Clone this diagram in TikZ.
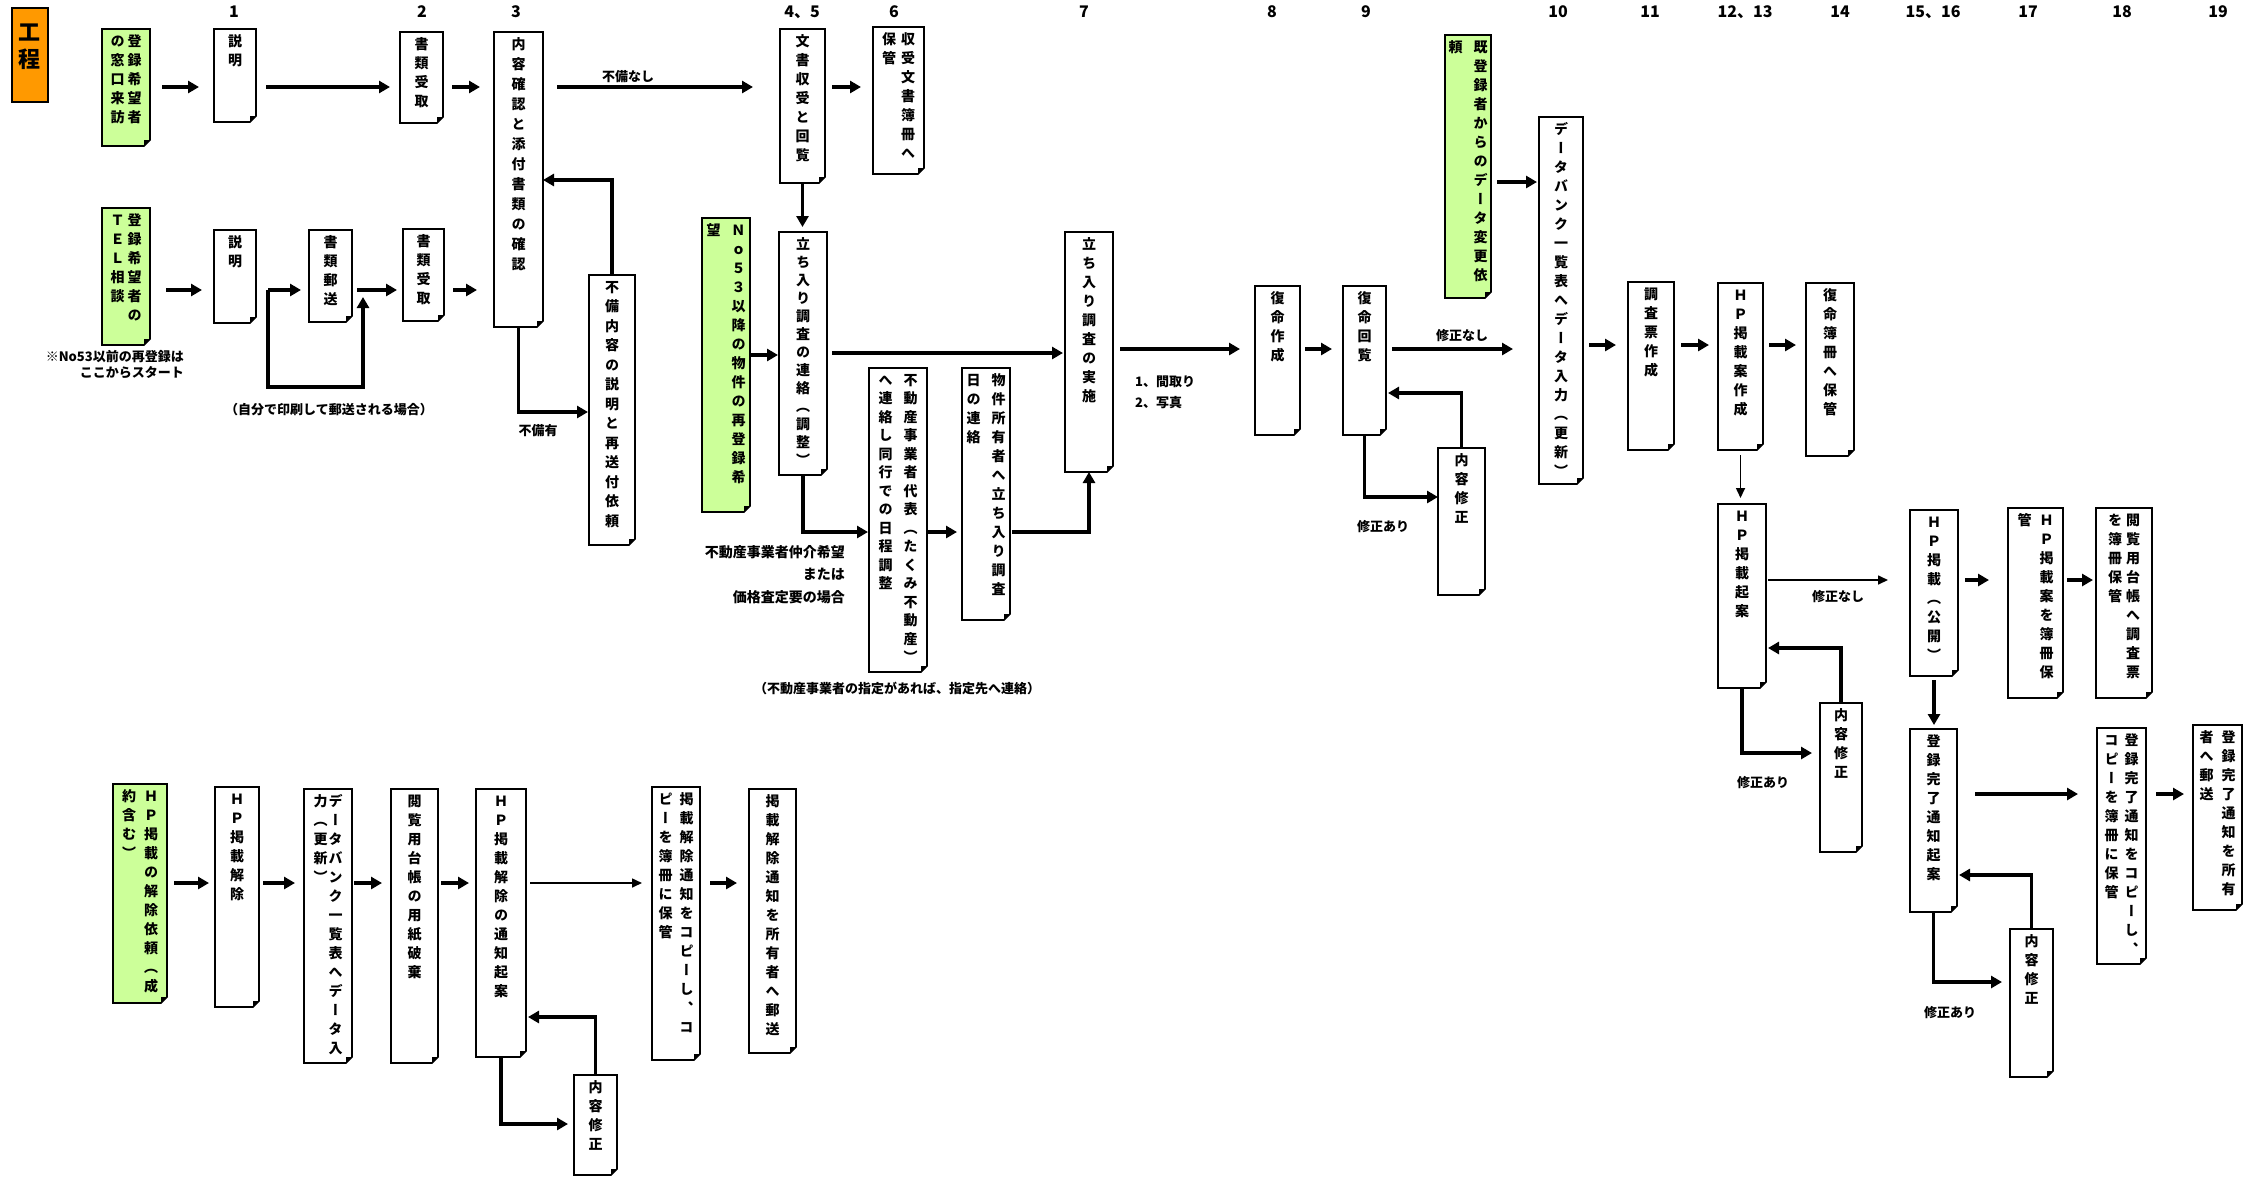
\documentclass[tikz,border=0pt]{standalone}
\usepackage{fontspec}
\usetikzlibrary{arrows.meta,calc}
\newfontfamily\jpv[RawFeature=+vert]{Noto Sans CJK JP}
\newfontfamily\jph{Noto Sans CJK JP}
\definecolor{gfill}{RGB}{204,255,153}
\definecolor{ofill}{RGB}{255,153,0}
\newlength\cw \setlength\cw{14pt}
\newlength\pitch \setlength\pitch{19pt}
\def\VCa#1{\ifx\relax#1\else\hbox to\cw{\hss\vrule height 12pt depth 2pt width 0pt#1\hss}\expandafter\VCa\fi}
\newcommand\VC[1]{\vtop{\baselineskip=\pitch\lineskiplimit=-\maxdimen\lineskip=0pt\VCa#1\relax}}
\newcommand\VT[3][5pt]{\hbox{\VC{#3}\hskip#1\VC{#2}}}
\tikzset{
 boxn/.style={inner sep=0pt, outer sep=0pt, draw=none},
 boxline/.style={draw=black, line width=1.6pt, line join=miter},
 vtext/.style={anchor=north, inner sep=0pt, font=\jpv\bfseries\fontsize{14}{14}\selectfont},
 lab/.style={inner sep=0pt, font=\jph\bfseries\fontsize{13}{13}\selectfont},
 labb/.style={inner sep=0pt, font=\jph\bfseries\fontsize{14}{14}\selectfont},
 num/.style={inner sep=0pt, anchor=base, font=\jph\bfseries\fontsize{16}{16}\selectfont},
 arr/.style={line width=3.2pt, -{Triangle[length=11pt,width=12pt]}},
 tarr/.style={line width=1.6pt, -{Triangle[length=10pt,width=9pt]}}
}
\newcommand\dbox[7][white]{%
\node[boxn, minimum width={#5-#3}, minimum height={#6-#4}, anchor=north west] (#2) at (#3,#4) {};
\filldraw[fill=#1, boxline] (#2.north west) -- (#2.north east) -- ([yshift=6pt]#2.south east) -- ([xshift=-6pt]#2.south east) -- (#2.south west) -- cycle;
\fill ([yshift=6pt]#2.south east) -- ([xshift=-6pt,yshift=6pt]#2.south east) -- ([xshift=-6pt]#2.south east) -- cycle;
\node[vtext] (#2t) at ([yshift=-5pt]#2.north) {#7};}
\begin{document}
\begin{tikzpicture}[x=1pt,y=-1pt]
\useasboundingbox (0,0) rectangle (2257,1178);
\fill[white] (0,0) rectangle (2257,1178);
% header
\node[boxn, draw=black, line width=1.6pt, fill=ofill, minimum width=36, minimum height=94, anchor=north west] (KT) at (12,8) {};
\node[anchor=north, inner sep=0pt, font=\jpv\bfseries\fontsize{22}{22}\selectfont] (KTt) at ([yshift=-16pt]KT.north) {\setlength\cw{24pt}\setlength\pitch{27pt}\VC{工程}};
\node[num] (C1) at (234,17) {1};
\node[num] (C2) at (422,17) {2};
\node[num] (C3) at (516,17) {3};
\node[num] (C45) at (802,17) {4、5};
\node[num] (C6) at (894,17) {6};
\node[num] (C7) at (1084,17) {7};
\node[num] (C8) at (1272,17) {8};
\node[num] (C9) at (1366,17) {9};
\node[num] (C10) at (1558,17) {10};
\node[num] (C11) at (1650,17) {11};
\node[num] (C1213) at (1745,17) {12、13};
\node[num] (C14) at (1840,17) {14};
\node[num] (C1516) at (1933,17) {15、16};
\node[num] (C17) at (2028,17) {17};
\node[num] (C18) at (2122,17) {18};
\node[num] (C19) at (2218,17) {19};
% row 1
\dbox[gfill]{G1}{102}{29}{150}{146}{\VT[3pt]{登録希望者}{の窓口来訪}}
\dbox{N1}{214}{29}{256}{122}{\VC{説明}}
\dbox{N2}{400}{32}{443}{123}{\VC{書類受取}}
\dbox{N3}{494}{32}{543}{327}{\setlength\pitch{20pt}\VC{内容確認と添付書類の確認}}
\dbox{N45}{780}{29}{825}{183}{\VC{文書収受と回覧}}
\dbox{N6}{873}{27}{924}{174}{\VT{収受文書簿冊へ}{保管}}
% row 2
\dbox[gfill]{G2}{102}{208}{150}{345}{\VT[3pt]{登録希望者の}{ＴＥＬ相談}}
\dbox{N1b}{214}{230}{256}{323}{\VC{説明}}
\dbox{N1c}{309}{230}{352}{322}{\VC{書類郵送}}
\dbox{N2b}{403}{229}{444}{321}{\VC{書類受取}}
\dbox{N3r}{589}{275}{635}{545}{\setlength\pitch{19.5pt}\VC{不備内容の説明と再送付依頼}}
\dbox[gfill]{G3}{702}{218}{750}{512}{\VT[11pt]{Ｎｏ５３以降の物件の再登録希}{望}}
\dbox{N45b}{779}{232}{827}{475}{\setlength\pitch{18pt}\VC{立ち入り調査の連絡（調整）}}
\dbox{N7}{1065}{232}{1113}{472}{\VC{立ち入り調査の実施}}
\dbox{N45c}{869}{368}{927}{672}{\setlength\pitch{18.5pt}\VT[11pt]{不動産事業者代表（たくみ不動産）}{へ連絡し同行での日程調整}}
\dbox{N45d}{962}{368}{1010}{620}{\VT[11pt]{物件所有者へ立ち入り調査}{日の連絡}}
\dbox{N8}{1255}{286}{1300}{435}{\VC{復命作成}}
\dbox{N9}{1343}{286}{1386}{435}{\VC{復命回覧}}
\dbox{N9r}{1438}{448}{1485}{595}{\VC{内容修正}}
\dbox[gfill]{G4}{1445}{35}{1491}{298}{\VT[11pt]{既登録者からのデータ変更依}{頼}}
\dbox{N10}{1539}{117}{1583}{484}{\VC{データバンク一覧表へデータ入力（更新）}}
\dbox{N11}{1628}{282}{1674}{450}{\VC{調査票作成}}
\dbox{N12}{1718}{283}{1763}{450}{\VC{ＨＰ掲載案作成}}
\dbox{N14}{1806}{283}{1854}{456}{\VC{復命簿冊へ保管}}
\dbox{N12b}{1718}{504}{1766}{688}{\VC{ＨＰ掲載起案}}
\dbox{N15}{1910}{510}{1958}{676}{\VC{ＨＰ掲載（公開）}}
\dbox{N17}{2008}{508}{2063}{698}{\VT[8pt]{ＨＰ掲載案を簿冊保}{管}}
\dbox{N18}{2096}{508}{2152}{698}{\VT[4pt]{閲覧用台帳へ調査票}{を簿冊保管}}
\dbox{N12r}{1820}{703}{1862}{852}{\VC{内容修正}}
\dbox{N15b}{1910}{729}{1957}{912}{\VC{登録完了通知起案}}
\dbox{N18b}{2097}{728}{2146}{964}{\VT[6pt]{登録完了通知をコピーし、}{コピーを簿冊に保管}}
\dbox{N19}{2193}{725}{2242}{910}{\VT[8pt]{登録完了通知を所有}{者へ郵送}}
\dbox{N15r}{2010}{929}{2053}{1077}{\VC{内容修正}}
% row 3
\dbox[gfill]{G5}{113}{784}{167}{1003}{\VT[8pt]{ＨＰ掲載の解除依頼（成}{約含む）}}
\dbox{M1}{215}{787}{259}{1007}{\VC{ＨＰ掲載解除}}
\dbox{M2}{304}{789}{352}{1063}{\VT[1pt]{データバンク一覧表へデータ入}{力（更新）}}
\dbox{M3}{391}{789}{438}{1063}{\VC{閲覧用台帳の用紙破棄}}
\dbox{M4}{476}{789}{526}{1057}{\VC{ＨＰ掲載解除の通知起案}}
\dbox{M6}{652}{787}{700}{1060}{\VT[7pt]{掲載解除通知をコピーし、コ}{ピーを簿冊に保管}}
\dbox{M7}{749}{789}{796}{1053}{\VC{掲載解除通知を所有者へ郵送}}
\dbox{M4r}{574}{1075}{617}{1175}{\VC{内容修正}}
% labels
\node[lab] (L1) at (628,77) {不備なし};
\node[lab] (L2) at (538,431) {不備有};
\node[lab] (L3) at (329,410) {（自分で印刷して郵送される場合）};
\node[lab,anchor=east] (L4) at (184,357) {※No53以前の再登録は};
\node[lab,anchor=east] (L5) at (184,373) {ここからスタート};
\node[labb,anchor=east] (L6) at (845,552) {不動産事業者仲介希望};
\node[labb,anchor=east] (L7) at (845,574) {または};
\node[labb,anchor=east] (L8) at (845,597) {価格査定要の場合};
\node[lab] (L9) at (897,688) {（不動産事業者の指定があれば、指定先へ連絡）};
\node[lab,anchor=west] (L10) at (1135,382) {1、間取り};
\node[lab,anchor=west] (L11) at (1135,403) {2、写真};
\node[lab] (L12) at (1462,336) {修正なし};
\node[lab] (L13) at (1383,527) {修正あり};
\node[lab] (L14) at (1838,597) {修正なし};
\node[lab] (L15) at (1763,783) {修正あり};
\node[lab] (L16) at (1950,1013) {修正あり};
% row coordinates
\coordinate (r1) at (0,87);
\coordinate (r2) at (0,290);
\coordinate (r3a) at (0,180);
\coordinate (r3b) at (0,412);
\coordinate (r4) at (0,355);
\coordinate (r4b) at (0,353);
\coordinate (r5) at (0,532);
\coordinate (r6) at (0,349);
\coordinate (r7) at (0,497);
\coordinate (r8) at (0,393);
\coordinate (r9) at (0,182);
\coordinate (r10) at (0,345);
\coordinate (r11) at (0,580);
\coordinate (r12) at (0,753);
\coordinate (r13) at (0,648);
\coordinate (r14) at (0,794);
\coordinate (r15) at (0,982);
\coordinate (r16) at (0,875);
\coordinate (r17) at (0,883);
\coordinate (r18) at (0,1124);
\coordinate (r19) at (0,1017);
\coordinate (b0) at (268,290);
\coordinate (b1) at (268,387);
\coordinate (b2) at (363,387);
\coordinate (b3) at (363,297);
% row 1 arrows
\draw[arr,shorten <=12pt,shorten >=15pt] (G1.east|-r1) -- (N1.west|-r1);
\draw[arr,shorten <=10pt,shorten >=10pt] (N1.east|-r1) -- (N2.west|-r1);
\draw[arr,shorten <=9pt,shorten >=14pt] (N2.east|-r1) -- (N3.west|-r1);
\draw[arr,shorten <=14pt,shorten >=27pt] (N3.east|-r1) -- (N45.west|-r1);
\draw[arr,shorten <=7pt,shorten >=12pt] (N45.east|-r1) -- (N6.west|-r1);
\draw[arr,shorten >=5pt] (N45.south) -- (N45.south|-N45b.north);
% row 2 arrows
\draw[arr,shorten <=16pt,shorten >=12pt] (G2.east|-r2) -- (N1b.west|-r2);
\draw[arr,shorten <=12pt,shorten >=8pt] (N1b.east|-r2) -- (N1c.west|-r2);
\draw[arr,shorten <=5pt,shorten >=6pt] (N1c.east|-r2) -- (N2b.west|-r2);
\draw[arr,shorten <=9pt,shorten >=17pt] (N2b.east|-r2) -- (N3.west|-r2);
\draw[arr] (b0) -- (b1) -- (b2) -- (b3);
\draw[arr] (N3r.north) |- (N3.east|-r3a);
\draw[arr,shorten >=1pt] (N3.south) |- (N3r.west|-r3b);
% middle
\draw[arr,shorten >=1pt] (G3.east|-r4) -- (N45b.west|-r4);
\draw[arr,shorten <=5pt,shorten >=2pt] (N45b.east|-r4b) -- (N7.west|-r4b);
\draw[arr,shorten >=1pt] (N45b.south) |- (N45c.west|-r5);
\draw[arr,shorten <=1pt,shorten >=5pt] (N45c.east|-r5) -- (N45d.west|-r5);
\draw[arr,shorten <=2pt] (N45d.east|-r5) -| (N7.south);
\draw[arr,shorten <=7pt,shorten >=15pt] (N7.east|-r6) -- (N8.west|-r6);
\draw[arr,shorten <=5pt,shorten >=11pt] (N8.east|-r6) -- (N9.west|-r6);
\draw[arr,shorten <=6pt,shorten >=26pt] (N9.east|-r6) -- (N10.west|-r6);
\draw[arr] (N9.south) |- (N9r.west|-r7);
\draw[arr,shorten >=2pt] (N9r.north) |- (N9.east|-r8);
\draw[arr,shorten <=6pt,shorten >=2pt] (G4.east|-r9) -- (N10.west|-r9);
\draw[arr,shorten <=6pt,shorten >=12pt] (N10.east|-r10) -- (N11.west|-r10);
\draw[arr,shorten <=7pt,shorten >=9pt] (N11.east|-r10) -- (N12.west|-r10);
\draw[arr,shorten <=6pt,shorten >=10pt] (N12.east|-r10) -- (N14.west|-r10);
\draw[tarr,shorten <=5pt,shorten >=6pt] (N12.south) -- (N12.south|-N12b.north);
\draw[tarr,shorten <=2pt,shorten >=22pt] (N12b.east|-r11) -- (N15.west|-r11);
\draw[arr,shorten <=7pt,shorten >=19pt] (N15.east|-r11) -- (N17.west|-r11);
\draw[arr,shorten <=4pt,shorten >=3pt] (N17.east|-r11) -- (N18.west|-r11);
\draw[arr,shorten >=8pt] (N12b.south) |- (N12r.west|-r12);
\draw[arr,shorten >=2pt] (N12r.north) |- (N12b.east|-r13);
\draw[arr,shorten <=4pt,shorten >=4pt] (N15.south) -- (N15.south|-N15b.north);
\draw[arr,shorten <=18pt,shorten >=19pt] (N15b.east|-r14) -- (N18b.west|-r14);
\draw[arr,shorten <=10pt,shorten >=9pt] (N18b.east|-r14) -- (N19.west|-r14);
\draw[arr,shorten >=8pt] (N15b.south) |- (N15r.west|-r15);
\draw[arr,shorten >=2pt] (N15r.north) |- (N15b.east|-r16);
% row 3 arrows
\draw[arr,shorten <=7pt,shorten >=6pt] (G5.east|-r17) -- (M1.west|-r17);
\draw[arr,shorten <=4pt,shorten >=9pt] (M1.east|-r17) -- (M2.west|-r17);
\draw[arr,shorten <=2pt,shorten >=9pt] (M2.east|-r17) -- (M3.west|-r17);
\draw[arr,shorten <=3pt,shorten >=7pt] (M3.east|-r17) -- (M4.west|-r17);
\draw[tarr,shorten <=4pt,shorten >=10pt] (M4.east|-r17) -- (M6.west|-r17);
\draw[arr,shorten <=10pt,shorten >=12pt] (M6.east|-r17) -- (M7.west|-r17);
\draw[arr,shorten >=6pt] (M4.south) |- (M4r.west|-r18);
\draw[arr,shorten >=2pt] (M4r.north) |- (M4.east|-r19);
\end{tikzpicture}
\end{document}
